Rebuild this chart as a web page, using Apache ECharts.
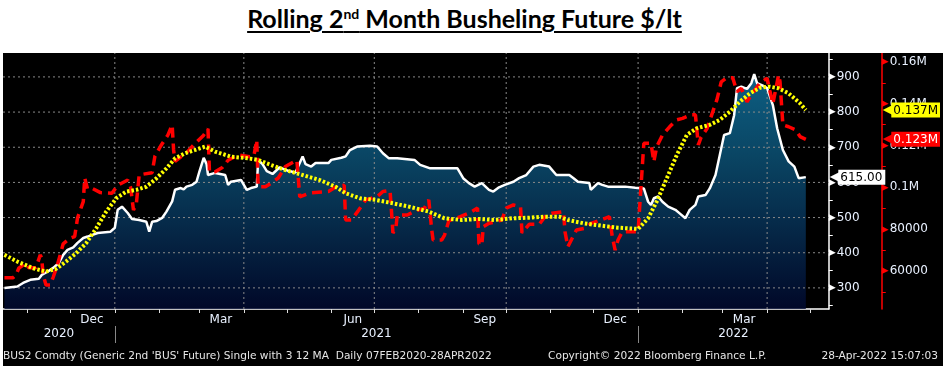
<!DOCTYPE html>
<html>
<head>
<meta charset="utf-8">
<script src="https://cdn.jsdelivr.net/npm/echarts@6/dist/echarts.min.js"></script>
<style>
  html, body { margin: 0; padding: 0; background: #fff; width: 943px; height: 366px; overflow: hidden; }
  #title { position: absolute; top: 2px; left: 0; width: 929px; text-align: center;
           font-family: Lato, "Open Sans", sans-serif; font-weight: bold; font-size: 25px; line-height: 32px;
           color: #000; text-decoration: underline; text-decoration-thickness: 2px; text-underline-offset: 3px; }
  #title sup { font-size: 14px; vertical-align: 9px; line-height: 0; }
  #chart { position: absolute; left: 3px; top: 53px; width: 940px; height: 313px; background: #000; }
</style>
</head>
<body>
<div id="title">Rolling 2<sup>nd</sup> Month Busheling Future $/lt</div>
<div id="chart"></div>
<script>
// ---------------- DATA ----------------
const priceDates = ['2020-10-16','2020-10-25','2020-10-29','2020-11-03','2020-11-09','2020-11-11','2020-11-15','2020-11-19','2020-11-23','2020-11-26','2020-11-29','2020-12-03','2020-12-06','2020-12-10','2020-12-13','2020-12-20','2020-12-29','2021-01-01','2021-01-03','2021-01-06','2021-01-10','2021-01-13','2021-01-18','2021-01-23','2021-01-25','2021-01-27','2021-01-30','2021-02-03','2021-02-06','2021-02-10','2021-02-12','2021-02-16','2021-02-18','2021-02-20','2021-02-24','2021-02-27','2021-03-01','2021-03-02','2021-03-04','2021-03-06','2021-03-07','2021-03-12','2021-03-19','2021-03-21','2021-03-23','2021-03-30','2021-04-03','2021-04-06','2021-04-10','2021-04-11','2021-04-14','2021-04-17','2021-04-21','2021-04-26','2021-05-02','2021-05-07','2021-05-12','2021-05-14','2021-05-18','2021-05-21','2021-05-30','2021-06-01','2021-06-08','2021-06-11','2021-06-14','2021-06-19','2021-06-28','2021-07-03','2021-07-07','2021-07-11','2021-07-17','2021-07-29','2021-08-02','2021-08-09','2021-08-28','2021-09-01','2021-09-05','2021-09-09','2021-09-14','2021-09-19','2021-09-22','2021-09-26','2021-09-30','2021-10-06','2021-10-10','2021-10-15','2021-10-20','2021-10-24','2021-10-31','2021-11-05','2021-11-14','2021-11-17','2021-11-20','2021-11-28','2021-11-29','2021-12-04','2021-12-07','2021-12-11','2021-12-23','2021-12-30','2022-01-05','2022-01-08','2022-01-10','2022-01-12','2022-01-15','2022-01-18','2022-01-22','2022-01-27','2022-01-30','2022-02-03','2022-02-06','2022-02-10','2022-02-12','2022-02-17','2022-02-20','2022-02-24','2022-02-27','2022-03-02','2022-03-06','2022-03-09','2022-03-11','2022-03-14','2022-03-18','2022-03-21','2022-03-23','2022-03-25','2022-03-29','2022-04-01','2022-04-05','2022-04-08','2022-04-12','2022-04-16','2022-04-20','2022-04-23','2022-04-28'];
const priceValues = [300,304,314,323,326,337,346,357,371,394,408,415,428,442,446,456,460,471,522,531,513,496,493,488,460,488,490,499,517,546,579,584,580,588,593,602,631,635,670,652,621,627,621,593,602,607,579,584,588,664,652,632,624,643,633,628,674,652,645,655,655,664,670,674,692,702,704,702,683,669,669,664,650,640,640,612,598,588,598,579,574,586,593,602,612,621,645,650,645,621,621,612,602,598,579,598,593,588,588,585,583,545,536,555,560,545,531,522,512,498,522,536,560,564,583,621,678,735,740,791,868,872,866,882,908,882,875,868,820,754,692,660,645,612,615];

const redDates = ['2020-10-16','2020-10-22','2020-10-24','2020-10-26','2020-10-31','2020-11-02','2020-11-07','2020-11-10','2020-11-11','2020-11-12','2020-11-14','2020-11-17','2020-11-19','2020-11-22','2020-11-24','2020-11-26','2020-12-01','2020-12-04','2020-12-06','2020-12-10','2020-12-11','2020-12-13','2020-12-16','2020-12-22','2020-12-30','2021-01-03','2021-01-10','2021-01-12','2021-01-14','2021-01-16','2021-01-18','2021-01-27','2021-01-29','2021-02-02','2021-02-07','2021-02-10','2021-02-11','2021-02-12','2021-02-20','2021-02-25','2021-03-04','2021-03-07','2021-03-08','2021-03-12','2021-03-17','2021-03-21','2021-03-28','2021-04-05','2021-04-08','2021-04-10','2021-04-11','2021-04-16','2021-04-20','2021-04-25','2021-04-30','2021-05-08','2021-05-10','2021-05-17','2021-05-30','2021-06-05','2021-06-10','2021-06-11','2021-06-15','2021-06-20','2021-06-25','2021-06-30','2021-07-03','2021-07-07','2021-07-12','2021-07-14','2021-07-16','2021-07-17','2021-07-24','2021-07-30','2021-08-05','2021-08-08','2021-08-10','2021-08-11','2021-08-17','2021-08-19','2021-08-22','2021-08-30','2021-09-05','2021-09-11','2021-09-12','2021-09-14','2021-09-15','2021-09-19','2021-09-24','2021-09-28','2021-10-01','2021-10-06','2021-10-11','2021-10-12','2021-10-17','2021-10-24','2021-10-29','2021-11-02','2021-11-10','2021-11-11','2021-11-13','2021-11-19','2021-11-25','2021-11-29','2021-12-06','2021-12-12','2021-12-14','2021-12-16','2021-12-18','2021-12-21','2022-01-01','2022-01-03','2022-01-05','2022-01-10','2022-01-12','2022-01-14','2022-01-18','2022-01-23','2022-01-28','2022-02-01','2022-02-07','2022-02-10','2022-02-12','2022-02-14','2022-02-18','2022-02-21','2022-02-25','2022-02-28','2022-03-04','2022-03-08','2022-03-11','2022-03-14','2022-03-18','2022-03-21','2022-03-27','2022-04-01','2022-04-03','2022-04-05','2022-04-09','2022-04-10','2022-04-12','2022-04-16','2022-04-21','2022-04-24','2022-04-28'];
const redValues = [56800,56800,58000,61300,63800,61500,61500,67700,66000,58100,53300,53300,57000,63000,68000,73000,75800,76500,85400,93200,104500,99200,99600,97500,97200,101000,103500,100000,89200,92000,106000,107000,115000,119800,125000,129900,117900,112500,116500,120300,125000,128000,107500,107500,109500,113000,115500,114700,115000,122700,100300,100300,102000,104500,110000,113000,95500,97300,98000,100500,101000,84400,84400,89000,94000,95000,95600,98000,98500,78200,80000,86800,86800,88800,90100,94000,80000,74800,74800,77200,84000,86000,87700,90100,73000,72400,81200,82800,83600,84400,90100,91600,90800,78200,82300,82300,86800,87600,88400,78800,71600,79600,80400,82800,84400,86000,76400,70000,74800,78800,78800,100000,121100,121100,112300,119500,125000,129000,132300,133000,134700,134700,120300,124000,128000,134000,142000,150500,152500,152500,145800,147400,141000,144200,150000,152200,146000,140000,153800,150600,129900,129000,127500,124300,123000];

const yellowDates = ['2020-10-16','2020-10-25','2020-11-05','2020-11-14','2020-11-21','2020-11-28','2020-12-05','2020-12-12','2020-12-19','2020-12-26','2021-01-02','2021-01-09','2021-01-16','2021-01-23','2021-01-30','2021-02-06','2021-02-12','2021-02-19','2021-02-26','2021-03-05','2021-03-12','2021-03-23','2021-04-04','2021-04-11','2021-04-20','2021-04-30','2021-05-12','2021-05-24','2021-06-04','2021-06-11','2021-06-21','2021-07-02','2021-07-14','2021-07-25','2021-08-08','2021-08-19','2021-08-31','2021-09-12','2021-09-23','2021-10-05','2021-10-17','2021-10-28','2021-11-07','2021-11-13','2021-11-24','2021-12-06','2021-12-18','2022-01-01','2022-01-08','2022-01-14','2022-01-21','2022-01-28','2022-02-04','2022-02-11','2022-02-20','2022-02-27','2022-03-06','2022-03-13','2022-03-20','2022-03-27','2022-04-03','2022-04-09','2022-04-16','2022-04-24','2022-04-28'];
const yellowValues = [67700,64500,61300,59700,61000,64500,68500,73300,80400,88400,94800,98000,98800,100300,104300,109100,113900,116300,117900,119500,117100,114700,113900,113100,110700,108300,105900,103500,100300,97200,94800,94000,92400,90800,88400,85200,84400,84900,84400,85200,85500,86000,86000,84400,82800,81700,80700,80100,85200,93200,104300,115500,125100,128300,129900,132300,136200,141000,145000,147700,148200,147400,145000,140200,137000];

// axis / tick labels
const xRange = ['2020-10-15', '2022-05-14'];
const leftRange = [240, 968];
const rightRange = [41800, 164300];
const leftLabelTicks = [300, 400, 500, 600, 700, 800, 900];
const leftMinorTicks = [250, 300, 350, 400, 450, 500, 550, 600, 650, 700, 750, 800, 850, 900, 950];
const rightLabelTicks = [60000, 80000, 100000, 120000, 140000, 160000];
const rightMinorTicks = [50000, 60000, 70000, 80000, 90000, 100000, 110000, 120000, 130000, 140000, 150000, 160000];
const monthTickDates = ['2020-11-01','2020-12-01','2021-01-01','2021-02-01','2021-03-01','2021-04-01','2021-05-01','2021-06-01','2021-07-01','2021-08-01','2021-09-01','2021-10-01','2021-11-01','2021-12-01','2022-01-01','2022-02-01','2022-03-01','2022-04-01','2022-05-01'];
const monthLabelDates = ['2020-12-16','2021-03-16','2021-06-16','2021-09-16','2021-12-16','2022-03-16'];
const monthNames = ['Jan','Feb','Mar','Apr','May','Jun','Jul','Aug','Sep','Oct','Nov','Dec'];
const quarterGridDates = ['2021-01-01','2021-04-01','2021-07-01','2021-10-01','2022-01-01','2022-04-01'];
const yearStarts = ['2020-01-01','2021-01-01','2022-01-01','2023-01-01'];
const yearDividerDates = ['2021-01-01','2022-01-01'];

// ---------------- BUILD ----------------
const ts = s => new Date(s + 'T00:00:00').getTime();
const xMin = ts(xRange[0]), xMax = ts(xRange[1]);
const yearLabelValues = [];
for (let i = 0; i < yearStarts.length - 1; i++) {
  const a = Math.max(xMin, ts(yearStarts[i])), b = Math.min(xMax, ts(yearStarts[i + 1]));
  if (b > a) yearLabelValues.push((a + b) / 2);
}
const pricePts = priceDates.map((d, i) => [ts(d), priceValues[i]]);
const redPts = redDates.map((d, i) => [ts(d), redValues[i]]);
const yellowPts = yellowDates.map((d, i) => [ts(d), yellowValues[i]]);
const fmtR = v => v >= 100000 ? (v / 1e6) + 'M' : String(v);

const FONT = 'DejaVu Sans';
const LABEL = '#e9f1ff';
const GRIDC = '#8a8a8a';

const baseX = { type: 'value', min: xMin, max: xMax, gridIndex: 0, position: 'bottom', scale: true };

// grid lines as plain line series built from the tick arrays (own canvas layer above the area fill)
const gridSeries = leftLabelTicks.map(v => [[xMin, v], [xMax, v]])
  .concat(quarterGridDates.map(d => [[ts(d), leftRange[0]], [ts(d), leftRange[1]]]))
  .map(pts => ({ type: 'line', xAxisIndex: 0, yAxisIndex: 0, data: pts, z: 3, zlevel: 1, silent: true,
    showSymbol: false, symbol: 'none', lineStyle: { color: GRIDC, width: 1, type: [2, 3] } }));

const chart = echarts.init(document.getElementById('chart'), null, { renderer: 'canvas' });
chart.setOption({
  backgroundColor: '#000',
  animation: false,
  grid: { left: 0, right: 109, top: 0, bottom: 57, containLabel: false },
  xAxis: [
    Object.assign({}, baseX, {
      axisLine: { show: true, onZero: false, lineStyle: { color: '#fff', width: 1.5 } },
      axisTick: { show: true, customValues: monthTickDates.map(ts), length: 4, lineStyle: { color: '#ddd' } },
      axisLabel: { show: true, customValues: monthLabelDates.map(ts), margin: 5,
        formatter: v => monthNames[new Date(v).getMonth()], color: LABEL, fontFamily: FONT, fontSize: 12 },
      splitLine: { show: false }
    }),
    Object.assign({}, baseX, {
      offset: 17,
      axisLine: { show: false, onZero: false },
      axisTick: { show: true, customValues: yearDividerDates.map(ts), length: 17, lineStyle: { color: '#888' } },
      axisLabel: { show: true, customValues: yearLabelValues, margin: 2,
        formatter: v => String(new Date(v).getFullYear()), color: LABEL, fontFamily: FONT, fontSize: 12 },
      splitLine: { show: false }
    })
  ],
  yAxis: [
    { // price axis
      type: 'value', min: leftRange[0], max: leftRange[1], position: 'right', offset: 0,
      axisLine: { show: true, lineStyle: { color: '#fff', width: 1.5 } },
      axisTick: { show: true, customValues: leftMinorTicks, length: 4, inside: false, lineStyle: { color: '#fff' } },
      axisLabel: { show: true, customValues: leftLabelTicks, margin: 0,
        formatter: v => '{t|▶}{v|' + v + '}',
        rich: { t: { color: '#fff', fontSize: 9, fontFamily: FONT, padding: [0, 1, 0, 0] },
                v: { color: LABEL, fontSize: 12, fontFamily: FONT } } },
      splitLine: { show: false }
    },
    { // secondary axis (red)
      type: 'value', min: rightRange[0], max: rightRange[1], position: 'right', offset: 53,
      axisLine: { show: true, lineStyle: { color: '#ff0000', width: 1.5 } },
      axisTick: { show: true, customValues: rightMinorTicks, length: 4, lineStyle: { color: '#ff0000' } },
      axisLabel: { show: true, customValues: rightLabelTicks, margin: 0,
        formatter: v => '{t|▶}{v|' + fmtR(v) + '}',
        rich: { t: { color: '#ff0000', fontSize: 9, fontFamily: FONT, padding: [0, 1, 0, 0] },
                v: { color: LABEL, fontSize: 12, fontFamily: FONT } } },
      splitLine: { show: false }
    },
    { // last price tag
      type: 'value', min: leftRange[0], max: leftRange[1], position: 'right', offset: 0, z: 6,
      axisLine: { show: false }, axisTick: { show: false }, splitLine: { show: false },
      axisLabel: { show: true, customValues: [priceValues[priceValues.length - 1]], margin: 1,
        formatter: v => '{a|◀}{b|' + v.toFixed(2) + '}',
        rich: { a: { color: '#fff', fontSize: 15, fontFamily: FONT, padding: [0, -3, 0, 0] },
                b: { color: '#000', backgroundColor: '#fff', fontSize: 12, fontFamily: FONT, padding: [2, 3, 1, 2] } } }
    },
    { // yellow tag
      type: 'value', min: rightRange[0], max: rightRange[1], position: 'right', offset: 53, z: 6,
      axisLine: { show: false }, axisTick: { show: false }, splitLine: { show: false },
      axisLabel: { show: true, customValues: [yellowValues[yellowValues.length - 1]], margin: 1,
        formatter: v => '{a|◀}{b|' + (v / 1e6).toFixed(3) + 'M}',
        rich: { a: { color: '#ffff00', fontSize: 15, fontFamily: FONT, padding: [0, -3, 0, 0] },
                b: { color: '#000', backgroundColor: '#ffff00', fontSize: 12, fontFamily: FONT, padding: [2, 2, 1, 2] } } }
    },
    { // red tag
      type: 'value', min: rightRange[0], max: rightRange[1], position: 'right', offset: 53, z: 6,
      axisLine: { show: false }, axisTick: { show: false }, splitLine: { show: false },
      axisLabel: { show: true, customValues: [redValues[redValues.length - 1]], margin: 1,
        formatter: v => '{a|◀}{b|' + (v / 1e6).toFixed(3) + 'M}',
        rich: { a: { color: '#ff0000', fontSize: 15, fontFamily: FONT, padding: [0, -3, 0, 0] },
                b: { color: '#fff', backgroundColor: '#ff0000', fontSize: 12, fontFamily: FONT, padding: [2, 2, 1, 2] } } }
    }
  ],
  series: [
    { name: 'price area', type: 'line', xAxisIndex: 0, yAxisIndex: 0, data: pricePts, z: 1, zlevel: 0,
      showSymbol: false, silent: true, lineStyle: { width: 0 },
      areaStyle: { origin: 'start', opacity: 0.82,
        color: new echarts.graphic.LinearGradient(0, 0, 0, 1, [
          { offset: 0, color: '#1074a0' }, { offset: 0.35, color: '#0c5479' }, { offset: 1, color: '#010a31' }]) } }
  ].concat(gridSeries).concat([
    { name: 'price', type: 'line', xAxisIndex: 0, yAxisIndex: 0, data: pricePts, z: 4, zlevel: 2,
      showSymbol: false, lineStyle: { color: '#ffffff', width: 2.5 } },
    { name: 'red', type: 'line', xAxisIndex: 0, yAxisIndex: 1, data: redPts, z: 5, zlevel: 2,
      showSymbol: false, lineStyle: { color: '#ff0000', width: 3.5, type: [10, 6] } },
    { name: 'yellow', type: 'line', xAxisIndex: 0, yAxisIndex: 1, data: yellowPts, z: 6, zlevel: 2,
      showSymbol: false, lineStyle: { color: '#ffff00', width: 4, type: [2.5, 2] } }
  ]),
  graphic: [
    { type: 'text', left: 0, top: 298, style: { text: "BUS2 Comdty (Generic 2nd 'BUS' Future) Single with 3 12 MA  Daily 07FEB2020-28APR2022",
        fill: '#e6e6e6', font: '10.6px "DejaVu Sans"' } },
    { type: 'text', left: 545, top: 298, style: { text: 'Copyright© 2022 Bloomberg Finance L.P.', fill: '#e6e6e6', font: '10.6px "DejaVu Sans"' } },
    { type: 'text', right: 5, top: 298, style: { text: '28-Apr-2022 15:07:03', fill: '#e6e6e6', font: '10.6px "DejaVu Sans"' } }
  ]
});
</script>
</body>
</html>
